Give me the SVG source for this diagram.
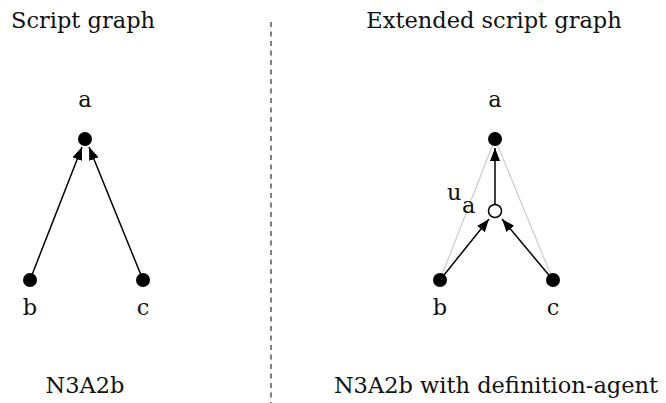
<svg xmlns="http://www.w3.org/2000/svg" width="666" height="403" viewBox="0 0 666 403">
<style>
text{font-family:"DejaVu Serif","Liberation Serif",serif;font-size:22.5px;fill:#111}
.lbl{text-anchor:middle}
.edge{stroke:#000;stroke-width:1.5;fill:none}
.ghost{stroke:#ccc;stroke-width:1.2;fill:none}
.node{fill:#000}
.open{fill:#fff;stroke:#000;stroke-width:1.5}
</style>
<defs>
<marker id="arr" viewBox="0 0 13 10" refX="13" refY="5" markerWidth="13" markerHeight="10" markerUnits="userSpaceOnUse" orient="auto">
<path d="M0,0 L13,5 L0,10 z" fill="#000"/>
</marker>
</defs>
<rect width="666" height="403" fill="#fff"/>
<!-- panel titles and captions -->
<text x="11" y="28">Script graph</text>
<text x="494" y="28" class="lbl">Extended script graph</text>
<text x="85" y="393" class="lbl">N3A2b</text>
<text x="496" y="393" class="lbl">N3A2b with definition-agent</text>
<line x1="271" y1="22" x2="271" y2="403" stroke="#000" stroke-width="1" stroke-dasharray="5,4.5"/>
<!-- connectors -->
<g id="connectors">
<line class="ghost" x1="440" y1="280" x2="495" y2="139"/>
<line class="ghost" x1="553" y1="280" x2="495" y2="139"/>
<line class="edge" x1="30" y1="280" x2="82" y2="147" marker-end="url(#arr)"/>
<line class="edge" x1="143" y1="280" x2="89" y2="147" marker-end="url(#arr)"/>
<line class="edge" x1="495" y1="204" x2="495" y2="148" marker-end="url(#arr)"/>
<line class="edge" x1="440" y1="280" x2="489" y2="219" marker-end="url(#arr)"/>
<line class="edge" x1="553" y1="280" x2="502" y2="219" marker-end="url(#arr)"/>
</g>
<!-- left graph -->
<g id="L-a"><circle class="node" cx="85" cy="139" r="7"/><text x="85" y="107" class="lbl">a</text></g>
<g id="L-b"><circle class="node" cx="30" cy="280" r="7"/><text x="30" y="315" class="lbl">b</text></g>
<g id="L-c"><circle class="node" cx="143" cy="280" r="7"/><text x="143" y="315" class="lbl">c</text></g>
<!-- right graph -->
<g id="R-a"><circle class="node" cx="495" cy="139" r="7"/><text x="495" y="107" class="lbl">a</text></g>
<g id="R-ua"><circle class="open" cx="495" cy="211" r="6.5"/><text x="447" y="200">u</text><text x="462" y="213">a</text></g>
<g id="R-b"><circle class="node" cx="440" cy="280" r="7"/><text x="440" y="315" class="lbl">b</text></g>
<g id="R-c"><circle class="node" cx="553" cy="280" r="7"/><text x="553" y="315" class="lbl">c</text></g>
</svg>
